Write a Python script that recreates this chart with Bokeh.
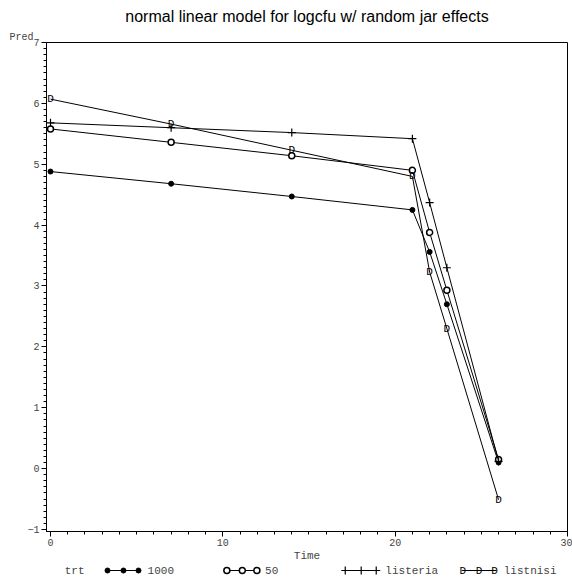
from bokeh.plotting import figure
from bokeh.models import Range1d, Title, FixedTicker
from bokeh.layouts import column
from bokeh.core.properties import value
from bokeh.embed import file_html
from bokeh.resources import INLINE

# ---- data ----
time = [0, 7, 14, 21, 22, 23, 26]
pred_1000 = [4.88, 4.68, 4.47, 4.25, 3.56, 2.70, 0.10]
pred_50 = [5.58, 5.36, 5.14, 4.90, 3.88, 2.93, 0.15]
pred_listeria = [5.68, 5.60, 5.52, 5.42, 4.37, 3.30, 0.12]
pred_listnisi = [6.07, 5.66, 5.23, 4.80, 3.23, 2.30, -0.51]
trt_labels = ["1000", "50", "listeria", "listnisi"]
x_ticks = [0, 10, 20, 30]
y_ticks = [-1, 0, 1, 2, 3, 4, 5, 6, 7]

MONO = "Liberation Mono"
GREY = "#444444"

p = figure(width=572, height=565, x_range=Range1d(-0.232, 30), y_range=Range1d(-1.033, 7.0),
           output_backend="svg", toolbar_location=None, title=None,
           min_border_left=46, min_border_right=5, min_border_top=42, min_border_bottom=34)
p.grid.visible = False
p.outline_line_color = "black"
p.outline_line_width = 1
p.background_fill_color = "white"

# "Pred" label (closest to the frame), then main title above it
p.add_layout(Title(text="Pred", align="left", offset=-37, text_font=MONO, text_font_size="10px",
                   text_font_style="normal", text_color=GREY, standoff=0), "above")
p.add_layout(Title(text="normal linear model for logcfu w/ random jar effects", align="center",
                   offset=-10, text_font="Liberation Sans", text_font_size="16px",
                   text_font_style="normal", text_color="black", standoff=10), "above")

for ax in (p.xaxis[0], p.yaxis[0]):
    ax.axis_line_color = "black"
    ax.major_tick_line_color = "black"
    ax.minor_tick_line_color = "black"
    ax.major_tick_out = 5
    ax.major_tick_in = 0
    ax.minor_tick_out = 3
    ax.minor_tick_in = 0
    ax.major_label_text_font = MONO
    ax.major_label_text_font_size = "10px"
    ax.major_label_text_color = GREY
    ax.major_label_standoff = 2

p.xaxis.ticker = FixedTicker(ticks=x_ticks, minor_ticks=[i for i in range(0, 31)])
p.yaxis.ticker = FixedTicker(ticks=y_ticks, minor_ticks=[round(-1 + 0.1 * i, 2) for i in range(0, 81)])
p.xaxis.axis_label = "Time"
p.xaxis.axis_label_text_font = MONO
p.xaxis.axis_label_text_font_size = "11px"
p.xaxis.axis_label_text_font_style = "normal"
p.xaxis.axis_label_text_color = GREY
p.xaxis.axis_label_standoff = 1

# series
p.line(time, pred_1000, line_color="black", line_width=1)
p.scatter(time, pred_1000, marker="circle", size=5, fill_color="black", line_color="black")

p.line(time, pred_50, line_color="black", line_width=1)
p.scatter(time, pred_50, marker="circle", size=6, fill_color="white", line_color="black", line_width=1.5)

p.line(time, pred_listeria, line_color="black", line_width=1)
p.scatter(time, pred_listeria, marker="cross", size=8, line_color="black", line_width=1.2)

p.line(time, pred_listnisi, line_color="black", line_width=1)
p.text(time, pred_listnisi, text=["D"] * len(time), text_font=value(MONO), text_font_size="11px",
       text_align="center", text_baseline="middle", text_color="black")

# ---- legend strip ----
lg = figure(width=572, height=14, x_range=Range1d(0, 572), y_range=Range1d(0, 14),
            output_backend="svg", toolbar_location=None,
            min_border_left=0, min_border_right=0, min_border_top=0, min_border_bottom=0)
lg.axis.visible = False
lg.grid.visible = False
lg.outline_line_color = None

ly = 9
leg_line_x0 = [66, 197, 327, 456]
leg_line_x1 = [103, 233, 364, 494]
leg_label_x = [111, 240, 372, 502]
lg.text([20], [ly], text=["trt"], text_font=value(MONO), text_font_size="11px",
        text_color=GREY, text_baseline="middle")
for i in range(4):
    lg.line([leg_line_x0[i], leg_line_x1[i]], [ly, ly], line_color="black", line_width=1)
    mx = [leg_line_x0[i] + 1, (leg_line_x0[i] + leg_line_x1[i]) / 2, leg_line_x1[i] - 2]
    if i == 0:
        lg.scatter(mx, [ly] * 3, marker="circle", size=5, fill_color="black", line_color="black")
    elif i == 1:
        lg.scatter(mx, [ly] * 3, marker="circle", size=6, fill_color="white", line_color="black", line_width=1.5)
    elif i == 2:
        lg.scatter(mx, [ly] * 3, marker="cross", size=8, line_color="black", line_width=1.2)
    else:
        lg.text(mx, [ly] * 3, text=["D"] * 3, text_font=value(MONO), text_font_size="11px",
                text_align="center", text_baseline="middle", text_color="black")
    lg.text([leg_label_x[i]], [ly], text=[trt_labels[i]], text_font=value(MONO), text_font_size="11px",
            text_color=GREY, text_baseline="middle")

layout = column(p, lg, spacing=0)
open("out.html", "w").write(file_html(layout, INLINE))
